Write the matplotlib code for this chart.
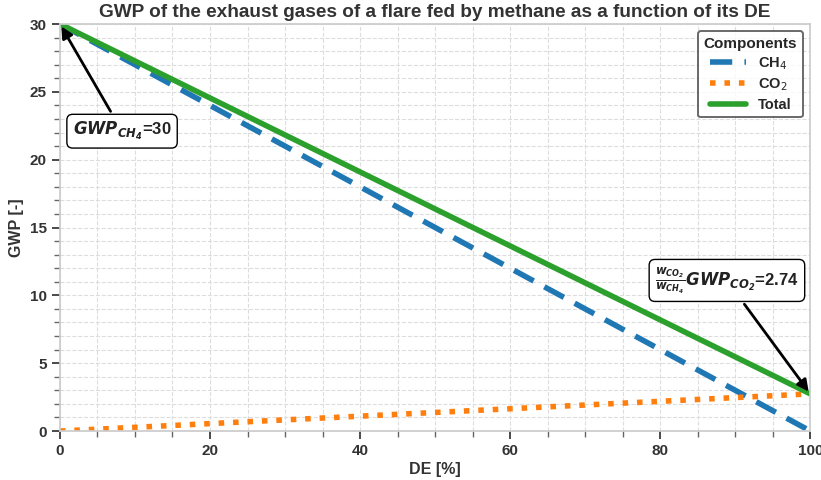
import matplotlib
matplotlib.use("Agg")
import matplotlib.pyplot as plt
import seaborn as sns
from matplotlib.ticker import MultipleLocator

sns.set_theme(style="ticks")
plt.rcParams["font.family"] = ["Liberation Sans", "DejaVu Sans"]

# data
de = [0, 100]
gwp_ch4 = [30.0, 0.0]
gwp_co2 = [0.0, 2.74]
gwp_total = [30.0, 2.74]

fig, ax = plt.subplots(figsize=(8.21, 4.8), dpi=100)

ax.plot(de, gwp_ch4, color="#1f77b4", lw=4, ls=(0, (4, 2.2)), label="CH$_4$")
ax.plot(de, gwp_co2, color="#ff7f0e", lw=4, ls=(0, (1, 1.6)), label="CO$_2$")
ax.plot(de, gwp_total, color="#2ca02c", lw=4, solid_capstyle="round", label="Total")

ax.set_xlim(0, 100)
ax.set_ylim(0, 30)
ax.xaxis.set_major_locator(MultipleLocator(20))
ax.xaxis.set_minor_locator(MultipleLocator(5))
ax.yaxis.set_major_locator(MultipleLocator(5))
ax.yaxis.set_minor_locator(MultipleLocator(1))
ax.grid(which="both", ls="--", color="#dddddd", lw=0.8)
ax.set_axisbelow(True)
for s in ax.spines.values():
    s.set_color("#cccccc")
ax.tick_params(which="major", length=6, color="#333333", labelsize=11)
ax.tick_params(which="minor", length=4, color="#666666")
for lab in ax.get_xticklabels() + ax.get_yticklabels():
    lab.set_fontweight("bold")
    lab.set_color("#333333")

ax.set_xlabel("DE [%]", fontweight="bold", fontsize=11.5, color="#333333", labelpad=3)
ax.set_ylabel("GWP [-]", fontweight="bold", fontsize=11.5, color="#333333")
ax.set_title("GWP of the exhaust gases of a flare fed by methane as a function of its DE",
             fontweight="bold", fontsize=13.7, color="#333333", pad=5)

leg = ax.legend(title="Components", loc="upper right", frameon=True,
                prop={"weight": "bold", "size": 10.5}, handlelength=2.5,
                borderpad=0.4, labelspacing=0.3, fancybox=True)
leg.get_title().set_fontweight("bold")
leg.get_title().set_fontsize(11)
leg.get_frame().set_edgecolor("#444444")
leg.get_frame().set_linewidth(1.4)

box = dict(boxstyle="round,pad=0.35", fc="white", ec="black", lw=1)
arrow = dict(arrowstyle="-|>", color="black", lw=2, mutation_scale=17)
ax.annotate(r"$\mathbfit{GWP_{CH_4}}$=30", xy=(de[0], gwp_total[0]), xytext=(1.7, 22.1),
            fontsize=12, fontweight="bold", color="#222222", bbox=box, arrowprops=arrow,
            ha="left", va="center")
ax.annotate(r"$\frac{\mathbfit{w_{CO_2}}}{\mathbfit{w_{CH_4}}}\mathbfit{GWP_{CO_2}}$=2.74",
            xy=(de[1], gwp_total[1]), xytext=(79.3, 11.1),
            fontsize=12, fontweight="bold", color="#222222", bbox=box, arrowprops=arrow,
            ha="left", va="center")

fig.subplots_adjust(left=0.073, right=0.987, top=0.95, bottom=0.102)
fig.savefig("out.png", dpi=100)
